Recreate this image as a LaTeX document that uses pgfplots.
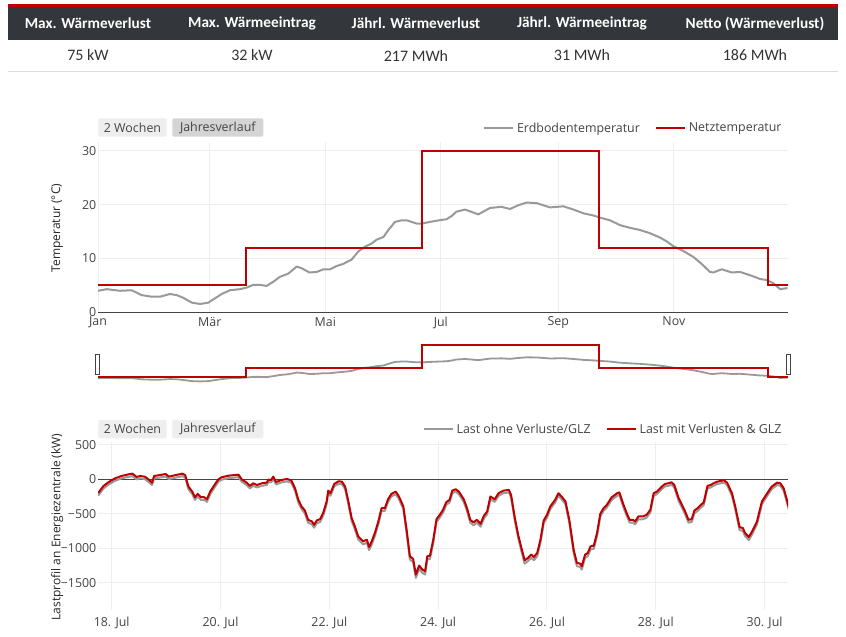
\documentclass[border=0pt]{standalone}
\usepackage{fontspec}
\setmainfont{Open Sans}
\newfontfamily\carlito{Carlito}
\usepackage{pgfplots}
\usepackage{pgfplotstable}
\pgfplotsset{compat=1.18}

\definecolor{netzred}{HTML}{C00000}
\definecolor{erdgray}{HTML}{999999}
\definecolor{hdrdark}{HTML}{33363B}
\definecolor{ticktext}{HTML}{444444}
\definecolor{gridc}{HTML}{EEEEEE}
\definecolor{btnlight}{HTML}{EEEEEE}
\definecolor{btndark}{HTML}{D4D4D4}
\definecolor{rulec}{HTML}{DDDDDD}

% Erdbodentemperatur (day of year, degC)
\pgfplotstableread{
t v
0 4.0
4.6 4.3
11.6 4.0
17.8 4.1
23 3.2
28.3 2.9
32.7 2.9
38 3.4
41.5 3.2
45 2.7
49.5 1.8
53.9 1.55
58.3 1.8
60.9 2.4
65.3 3.4
69.7 4.1
75 4.3
78.5 4.6
82 5.1
85.5 5.1
89 4.9
92.6 5.7
96.1 6.6
100.5 7.2
104.9 8.5
107.5 8.2
111.6 7.4
115.5 7.5
119 8.0
122.5 8.0
126 8.6
129.5 9.0
133.9 9.8
137.4 11.3
141 12.2
144.5 12.8
147.1 13.5
150.7 14.0
153.3 15.3
156.8 16.8
160.3 17.1
163 17.1
168.2 16.5
170.9 16.5
175.3 16.8
180 17.1
184 17.3
186.7 17.9
189.2 18.7
193.8 19.1
200.8 18.2
207 19.4
213.1 19.6
217.5 19.2
221.9 19.9
226.3 20.4
231.6 20.3
238.6 19.5
242.2 19.6
245.7 19.7
251 19.1
256.3 18.4
261.5 18.0
265 17.6
270.3 17.1
275.6 16.2
280.9 15.7
286.1 15.3
291.4 14.7
296.7 13.9
300.2 13.2
303.7 12.3
309 11.4
314.3 10.3
318.7 9.0
323.1 7.5
324.9 7.4
329.3 8.0
334.6 7.4
339 7.5
344.2 6.9
349.5 6.2
353 6.0
356.6 5.4
360.1 4.3
364 4.5
}\erdboden

% Netztemperatur
\pgfplotstableread{
t v
0 5
78 5
78 12
170.9 12
170.9 30
264.7 30
264.7 12
353.6 12
353.6 5
364.3 5
}\netz

% Lastprofil (days since 18 Jul, kW)
\pgfplotstableread{
t red gray
-0.25 -200 -237
-0.15 -96 -132
-0.06 -43 -78
0.06 14 -21
0.18 48 13
0.31 72 36
0.38 82 46
0.46 34 -1
0.52 48 13
0.61 38 3
0.69 -10 -45
0.74 -48 -83
0.78 48 13
0.89 62 26
0.99 77 41
1.05 38 3
1.16 58 22
1.30 82 46
1.35 62 26
1.41 -106 -142
1.48 -178 -215
1.53 -260 -298
1.58 -212 -249
1.64 -260 -298
1.70 -260 -298
1.75 -289 -327
1.81 -178 -215
1.89 -82 -118
1.96 0 -35
2.02 29 -6
2.15 53 17
2.33 67 31
2.39 0 -35
2.48 -48 -83
2.54 -96 -132
2.60 -58 -94
2.67 -82 -118
2.76 -58 -94
2.85 -48 -83
2.88 -5 -40
2.93 -10 -45
2.97 38 3
3.02 -40 -75
3.12 -10 -45
3.22 5 -30
3.30 -15 -50
3.37 -130 -166
3.43 -298 -336
3.49 -394 -433
3.55 -452 -492
3.61 -587 -628
3.68 -611 -652
3.72 -659 -701
3.77 -596 -637
3.83 -577 -618
3.89 -481 -521
3.95 -322 -360
3.98 -164 -201
4.02 -202 -239
4.09 -67 -103
4.17 -29 -64
4.23 -34 -69
4.29 -106 -142
4.35 -322 -360
4.41 -563 -604
4.47 -683 -725
4.53 -827 -870
4.62 -899 -943
4.69 -875 -919
4.73 -981 -1026
4.78 -899 -943
4.84 -770 -813
4.90 -611 -652
4.96 -418 -457
5.02 -418 -457
5.08 -289 -327
5.14 -212 -249
5.22 -178 -215
5.28 -250 -288
5.36 -394 -433
5.42 -731 -773
5.48 -1116 -1162
5.54 -1154 -1201
5.59 -1380 -1429
5.65 -1250 -1298
5.71 -1308 -1356
5.76 -1332 -1380
5.80 -1116 -1162
5.85 -1106 -1152
5.91 -875 -919
5.97 -577 -618
6.03 -515 -555
6.09 -442 -481
6.15 -330 -368
6.21 -298 -336
6.26 -164 -201
6.32 -144 -180
6.38 -178 -215
6.47 -289 -327
6.53 -418 -457
6.59 -587 -628
6.65 -625 -666
6.71 -587 -628
6.78 -645 -686
6.84 -529 -569
6.90 -467 -507
6.96 -250 -288
7.04 -289 -327
7.11 -202 -239
7.20 -164 -201
7.30 -154 -191
7.34 -226 -263
7.41 -563 -604
7.47 -803 -846
7.53 -996 -1041
7.59 -1174 -1221
7.65 -1140 -1186
7.71 -1092 -1138
7.76 -1126 -1172
7.82 -1068 -1114
7.88 -875 -919
7.94 -596 -637
8.00 -515 -555
8.06 -394 -433
8.15 -298 -336
8.21 -202 -239
8.28 -260 -298
8.34 -322 -360
8.41 -587 -628
8.49 -1020 -1065
8.55 -1212 -1259
8.61 -1222 -1269
8.64 -1260 -1308
8.70 -1092 -1138
8.75 -1068 -1114
8.80 -972 -1017
8.86 -962 -1007
8.92 -779 -822
8.98 -500 -540
9.04 -418 -457
9.10 -370 -409
9.19 -260 -298
9.29 -202 -239
9.33 -190 -227
9.40 -356 -395
9.47 -500 -540
9.52 -587 -628
9.58 -587 -628
9.62 -611 -652
9.68 -539 -579
9.76 -539 -579
9.83 -515 -555
9.90 -442 -481
9.96 -202 -239
10.02 -178 -215
10.11 -106 -142
10.17 -67 -103
10.23 -58 -94
10.29 -43 -78
10.34 -82 -118
10.42 -274 -312
10.48 -370 -409
10.54 -467 -507
10.60 -587 -628
10.66 -577 -618
10.71 -452 -492
10.77 -418 -457
10.83 -370 -409
10.88 -337 -375
10.95 -96 -132
11.01 -82 -118
11.06 -58 -94
11.13 -34 -69
11.25 -14 -49
11.31 -48 -83
11.40 -202 -239
11.46 -394 -433
11.54 -693 -735
11.60 -707 -749
11.64 -779 -822
11.71 -837 -880
11.77 -755 -798
11.86 -611 -652
11.95 -322 -360
12.04 -212 -249
12.13 -106 -142
12.23 -48 -83
12.29 -58 -94
12.35 -130 -166
12.41 -298 -336
12.44 -394 -433
}\last

\newcommand{\pf}{\fontsize{12.4bp}{14bp}\selectfont}

\pgfplotsset{
  plotlyaxis/.style={
    scale only axis, width=690bp,
    axis line style={draw=none},
    major tick length=0pt,
    tick label style={font=\pf, text=ticktext},
    yticklabel style={anchor=east, inner xsep=1.5bp},
    grid=major, grid style={draw=gridc, line width=1bp},
    extra y tick style={grid style={draw=ticktext, line width=1.2bp}},
    legend columns=2,
    legend cell align=left,
    legend style={draw=none, fill=none, font=\pf, text=ticktext, inner sep=0pt,
      nodes={inner xsep=3bp, inner ysep=1bp},
      /tikz/every even column/.append style={column sep=12bp}},
    legend image code/.code={\draw[#1] (0bp,0bp) -- (29bp,0bp);},
  }
}

\begin{document}
\begin{tikzpicture}[x=1bp,y=1bp]
\useasboundingbox (0,0) rectangle (846,-637);
\fill[white] (0,0) rectangle (846,-637);

% ---------- header table ----------
\fill[netzred] (8,-4) rectangle (838,-7.5);
\fill[hdrdark] (8,-7.5) rectangle (838,-40);
\begin{scope}[every node/.style={text=white, font=\carlito\bfseries\fontsize{15.3bp}{18bp}\selectfont}]
\node at (88,-23.5) {Max. Wärmeverlust};
\node at (252,-23.5) {Max. Wärmeeintrag};
\node at (416,-23.5) {Jährl. Wärmeverlust};
\node at (582,-23.5) {Jährl. Wärmeeintrag};
\node at (755,-23.5) {Netto (Wärmeverlust)};
\end{scope}
\begin{scope}[every node/.style={text=black!80, font=\carlito\fontsize{16bp}{19bp}\selectfont}]
\node at (88,-55.5) {75 kW};
\node at (252,-55.5) {32 kW};
\node at (416,-55.5) {217 MWh};
\node at (582,-55.5) {31 MWh};
\node at (755,-55.5) {186 MWh};
\end{scope}
\draw[rulec, line width=1] (8,-72) -- (838,-72);

% ---------- buttons ----------
\node[fill=btnlight, rounded corners=2bp, minimum width=68.4bp, minimum height=18.4bp, inner sep=0pt, font=\pf, text=ticktext] at (132.5,-127.5) {2 Wochen};
\node[fill=btndark, rounded corners=2bp, minimum width=91bp, minimum height=18.4bp, inner sep=0pt, font=\pf, text=ticktext] at (217.8,-127.5) {Jahresverlauf};
\node[fill=btnlight, rounded corners=2bp, minimum width=68.4bp, minimum height=18.4bp, inner sep=0pt, font=\pf, text=ticktext] at (132.5,-429.2) {2 Wochen};
\node[fill=btnlight, rounded corners=2bp, minimum width=91bp, minimum height=18.4bp, inner sep=0pt, font=\pf, text=ticktext] at (217.8,-429.2) {Jahresverlauf};

% ---------- axis titles ----------
\node[rotate=90, font=\fontsize{12bp}{14bp}\selectfont, text=black!85] at (57.3,-228) {Temperatur (°C)};
\node[rotate=90, font=\fontsize{12bp}{14bp}\selectfont, text=black!85] at (57.3,-527) {Lastprofil an Energiezentrale (kW)};

% ---------- top chart ----------
\begin{axis}[plotlyaxis,
  at={(98bp,-312.3bp)}, anchor=south west, height=170bp,
  xmin=0, xmax=364.3, ymin=0, ymax=31.6,
  xtick={0,59,120,181,243,304},
  xticklabels={Jan,Mär,Mai,Jul,Sep,Nov},
  xticklabel style={anchor=north, inner ysep=4.5bp},
  ytick={10,20,30}, yticklabels={10,20,30},
  extra y ticks={0}, extra y tick labels={0},
  legend style={at={(1,1)}, anchor=south east, xshift=-3.3bp, yshift=7.5bp},
]
\addplot[erdgray, line width=2bp, line join=round] table[x=t, y=v] {\erdboden};
\addlegendentry{Erdbodentemperatur}
\addplot[netzred, line width=2bp, line join=miter] table[x=t, y=v] {\netz};
\addlegendentry{Netztemperatur}
\end{axis}

% ---------- range slider ----------
\begin{axis}[scale only axis, width=690bp, height=40.4bp,
  at={(98bp,-383.4bp)}, anchor=south west,
  xmin=0, xmax=364.3, ymin=0, ymax=31.6,
  axis lines=none, clip=false]
\addplot[erdgray, line width=1.8bp, line join=round] table[x=t, y=v] {\erdboden};
\addplot[netzred, line width=1.8bp] table[x=t, y=v] {\netz};
\end{axis}
\draw[draw=ticktext, fill=white, line width=0.9] (95.5,-354.3) rectangle (99.7,-374);
\draw[draw=ticktext, fill=white, line width=0.9] (786.2,-354.3) rectangle (790.4,-374);

% ---------- bottom chart ----------
\begin{axis}[plotlyaxis,
  at={(98bp,-610bp)}, anchor=south west, height=167.7bp,
  xmin=-0.252, xmax=12.43, ymin=-1894, ymax=536,
  xtick={0,2,4,6,8,10,12},
  xticklabels={18. Jul,20. Jul,22. Jul,24. Jul,26. Jul,28. Jul,30. Jul},
  xticklabel style={anchor=north, inner ysep=6.5bp},
  ytick={-1500,-1000,-500,500}, yticklabels={−1500,−1000,−500,500},
  extra y ticks={0}, extra y tick labels={0},
  legend style={at={(1,1)}, anchor=south east, xshift=-3.3bp, yshift=6.5bp},
]
\addplot[erdgray, line width=2bp, line join=round] table[x=t, y=gray] {\last};
\addlegendentry{Last ohne Verluste/GLZ}
\addplot[netzred, line width=2bp, line join=round] table[x=t, y=red] {\last};
\addlegendentry{Last mit Verlusten \& GLZ}
\end{axis}
\end{tikzpicture}
\end{document}
